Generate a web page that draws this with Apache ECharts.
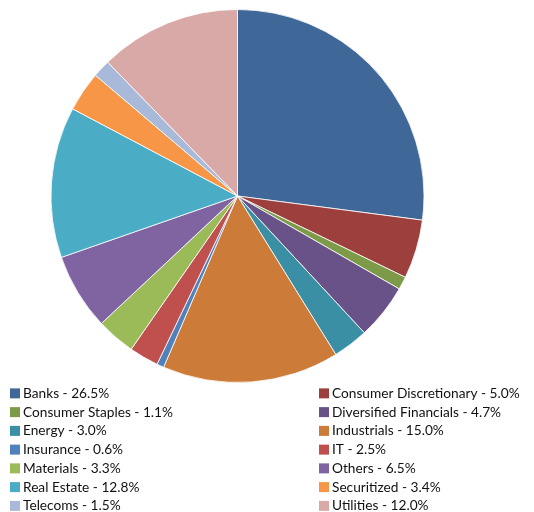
<!DOCTYPE html>
<html>
<head>
<meta charset="utf-8">
<script src="https://cdn.jsdelivr.net/npm/echarts@6/dist/echarts.min.js"></script>
<style>
  html, body { margin: 0; padding: 0; background: #fff; }
  #chart { width: 534px; height: 512px; }
</style>
</head>
<body>
<div id="chart"></div>
<script>
// Sector allocation (percent of portfolio)
const sectors = [
  'Banks', 'Consumer Discretionary', 'Consumer Staples', 'Diversified Financials',
  'Energy', 'Industrials', 'Insurance', 'IT', 'Materials', 'Others',
  'Real Estate', 'Securitized', 'Telecoms', 'Utilities'
];
const weights = [26.5, 5.0, 1.1, 4.7, 3.0, 15.0, 0.6, 2.5, 3.3, 6.5, 12.8, 3.4, 1.5, 12.0];
const sliceColors = [
  '#3f6899', '#9d403d', '#7d9a48', '#695287', '#3b8fa4', '#cc7b38', '#4f81bd',
  '#c0504d', '#9bbb59', '#8064a2', '#4bacc6', '#f79646', '#a9b9d9', '#d9a9a8'
];

const valueByName = {};
sectors.forEach((s, i) => { valueByName[s] = weights[i]; });

// legend is laid out in two columns, filled row by row
const leftCol = sectors.filter((_, i) => i % 2 === 0);
const rightCol = sectors.filter((_, i) => i % 2 === 1);

const legendBase = {
  orient: 'vertical',
  top: 384,
  height: 200,
  icon: 'rect',
  itemWidth: 10,
  itemHeight: 10,
  itemGap: 0,
  padding: 0,
  itemStyle: { borderWidth: 0 },
  textStyle: {
    fontFamily: 'Lato',
    fontSize: 13.7,
    color: '#111111',
    lineHeight: 18.75,
    padding: [0, 0, 0, -2]
  },
  formatter: name => name + ' - ' + valueByName[name].toFixed(1) + '%'
};

const chart = echarts.init(document.getElementById('chart'), null, { renderer: 'canvas' });
chart.setOption({
  animation: false,
  color: sliceColors,
  legend: [
    Object.assign({}, legendBase, { left: 10, data: leftCol }),
    Object.assign({}, legendBase, { left: 319, data: rightCol })
  ],
  series: [{
    type: 'pie',
    center: [237.5, 196],
    radius: 186.5,
    startAngle: 90,
    clockwise: true,
    label: { show: false },
    labelLine: { show: false },
    emphasis: { disabled: true },
    itemStyle: { borderColor: '#ffffff', borderWidth: 0.8 },
    data: sectors.map((s, i) => ({ name: s, value: weights[i] }))
  }]
});
</script>
</body>
</html>
